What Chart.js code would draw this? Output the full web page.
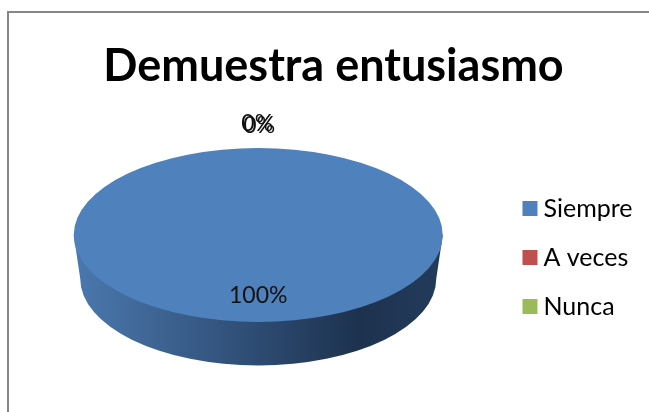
<!DOCTYPE html>
<html>
<head>
<meta charset="utf-8">
<style>html,body{margin:0;padding:0;background:#fff}canvas{display:block}</style>
<script src="https://cdn.jsdelivr.net/npm/chart.js@4"></script>
</head>
<body>
<canvas id="c" width="649" height="412"></canvas>
<script>
const titleText = "Demuestra entusiasmo";
const categories = ["Siempre", "A veces", "Nunca"];
const values = [100, 0, 0];
const colors = ["#4f81bd", "#c0504d", "#9bbb59"];
const fontFamily = "Lato";
const squash = 0.4715;

function percent(v) {
  const total = values.reduce((a, b) => a + b, 0);
  return Math.round(v / total * 100) + "%";
}

const frame = {
  id: "frame",
  beforeDraw(chart) {
    const c = chart.ctx;
    c.save();
    c.strokeStyle = "#868686";
    c.lineWidth = 2;
    c.beginPath();
    c.moveTo(8, chart.height);
    c.lineTo(8, 12);
    c.lineTo(chart.width, 12);
    c.stroke();
    c.restore();
  }
};

const pie3d = {
  id: "pie3d",
  afterLayout(chart) {
    const l = chart.legend;
    l.left -= 6.5; l.right -= 6.5;
    l.top += 69; l.bottom += 69;
    chart.titleBlock.left += 6.5;
    chart.titleBlock.right += 6.5;
  },
  beforeDatasetDraw(chart, args) {
    const arc = chart.getDatasetMeta(args.index).data[0];
    const c = chart.ctx, cx = arc.x, cy = arc.y, r = arc.outerRadius;
    const ry = r * squash, bottomR = r * 0.965, depth = ry * 0.5;
    c.save();
    const g = c.createLinearGradient(cx - r, 0, cx + r, 0);
    g.addColorStop(0, "#4a78ae");
    g.addColorStop(0.14, "#436c9d");
    g.addColorStop(0.5, "#2d4b72");
    g.addColorStop(0.77, "#1d324e");
    g.addColorStop(1, "#233b5b");
    c.fillStyle = g;
    c.beginPath();
    c.moveTo(cx - r, cy);
    c.lineTo(cx - bottomR, cy + depth);
    c.ellipse(cx, cy + depth, bottomR, ry, 0, Math.PI, 0, true);
    c.lineTo(cx + r, cy);
    c.closePath();
    c.fill();
    c.restore();
    c.save();
    c.translate(cx, cy);
    c.scale(1, squash);
    c.translate(-cx, -cy);
  },
  afterDatasetDraw(chart) {
    chart.ctx.restore();
  },
  afterDatasetsDraw(chart) {
    const c = chart.ctx;
    const arcs = chart.getDatasetMeta(0).data;
    c.save();
    c.font = "23px " + fontFamily;
    c.fillStyle = "#111";
    c.textAlign = "center";
    c.textBaseline = "middle";
    arcs.forEach((arc, i) => {
      const mid = (arc.startAngle + arc.endAngle) / 2;
      const f = values[i] > 0 ? 0.7 : 1.27;
      const nudge = values[i] > 0 ? 0 : (i === 1 ? -1 : 1);
      const x = arc.x + Math.cos(mid) * arc.outerRadius * f + nudge;
      const y = arc.y + Math.sin(mid) * arc.outerRadius * squash * f + nudge;
      c.fillText(percent(values[i]), x, y);
    });
    c.restore();
  }
};

new Chart(document.getElementById("c"), {
  type: "pie",
  data: {
    labels: categories,
    datasets: [{
      data: values,
      backgroundColor: colors,
      borderWidth: 0,
      radius: 184.5,
      clip: false
    }]
  },
  options: {
    responsive: false,
    animation: false,
    layout: { padding: { left: 5, right: 0, top: 0, bottom: 35 } },
    plugins: {
      title: {
        display: true,
        text: titleText,
        color: "#000",
        font: { family: fontFamily, size: 45, weight: "bold" },
        padding: { top: 39, bottom: 0 }
      },
      legend: {
        position: "right",
        labels: {
          boxWidth: 2,
          boxHeight: 2,
          padding: 24,
          color: "#111",
          font: { family: fontFamily, size: 25 },
          generateLabels: () => categories.map((t, i) => ({
            text: t,
            fillStyle: colors[i],
            strokeStyle: colors[i],
            lineWidth: 13,
            index: i
          }))
        }
      },
      tooltip: { enabled: false }
    }
  },
  plugins: [frame, pie3d]
});
</script>
</body>
</html>
